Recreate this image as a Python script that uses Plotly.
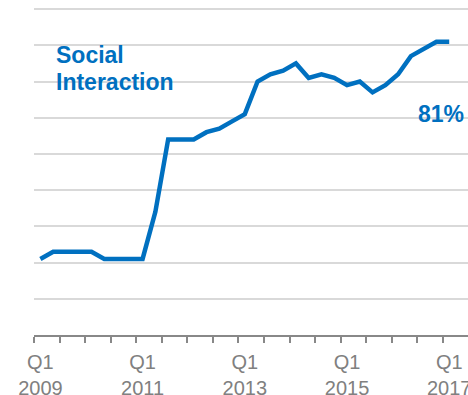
import plotly.graph_objects as go

# Quarterly share (%), Q1 2009 through Q1 2017
quarters = [f"Q{q} {y}" for y in range(2009, 2018) for q in range(1, 5)][:33]
social_interaction = [
    21, 23, 23, 23, 23, 21, 21, 21,   # 2009-2010
    21, 34, 54, 54, 54, 56, 57, 59,   # 2011-2012
    61, 70, 72, 73, 75, 71, 72, 71,   # 2013-2014
    69, 70, 67, 69, 72, 77, 79, 81,   # 2015-2016
    81,                               # Q1 2017
]
label_positions = [0, 8, 16, 24, 32]
label_text = ["Q1<br>2009", "Q1<br>2011", "Q1<br>2013", "Q1<br>2015", "Q1<br>2017"]
boundary_ticks = [i - 0.5 for i in range(0, 35, 2)]

BLUE = "#0070C0"
GRAY = "#888888"
FONT = "Arial, Liberation Sans, sans-serif"

x_index = list(range(len(social_interaction)))

fig = go.Figure()
fig.add_trace(go.Scatter(
    x=x_index,
    y=social_interaction,
    text=quarters,
    mode="lines",
    line=dict(color=BLUE, width=4.5),
    hoverinfo="text+y",
))

fig.update_layout(
    width=468,
    height=395,
    margin=dict(l=34, r=0, t=8, b=60, autoexpand=False),
    paper_bgcolor="white",
    plot_bgcolor="white",
    showlegend=False,
    font=dict(family=FONT),
    xaxis=dict(
        range=[-0.5, 33.47],
        automargin=False,
        tickmode="array",
        tickvals=label_positions,
        ticktext=label_text,
        ticks="",
        ticklabelstandoff=8,
        ticklabeloverflow="allow",
        tickfont=dict(size=20, color="#808080", family=FONT),
        showgrid=False,
        zeroline=False,
        showline=True,
        linecolor=GRAY,
        linewidth=1.5,
        minor=dict(
            tickmode="array",
            tickvals=boundary_ticks,
            ticks="outside",
            ticklen=6,
            tickwidth=1.5,
            tickcolor=GRAY,
            showgrid=False,
        ),
    ),
    yaxis=dict(
        range=[0, 90.3],
        automargin=False,
        dtick=10,
        showticklabels=False,
        ticks="",
        showgrid=True,
        gridcolor="#D9D9D9",
        gridwidth=1.5,
        zeroline=False,
        showline=False,
    ),
    annotations=[
        dict(text="<b>Social</b>", xref="paper", yref="paper", x=0.047, y=0.857,
             xanchor="left", yanchor="middle", showarrow=False,
             font=dict(size=23, color=BLUE, family=FONT)),
        dict(text="<b>Interaction</b>", xref="paper", yref="paper", x=0.047, y=0.774,
             xanchor="left", yanchor="middle", showarrow=False,
             font=dict(size=23, color=BLUE, family=FONT)),
        dict(text="<b>81%</b>", xref="paper", yref="paper", x=0.995, y=0.676,
             xanchor="right", yanchor="middle", showarrow=False,
             font=dict(size=23, color=BLUE, family=FONT)),
    ],
)

fig.write_html("out.html")
